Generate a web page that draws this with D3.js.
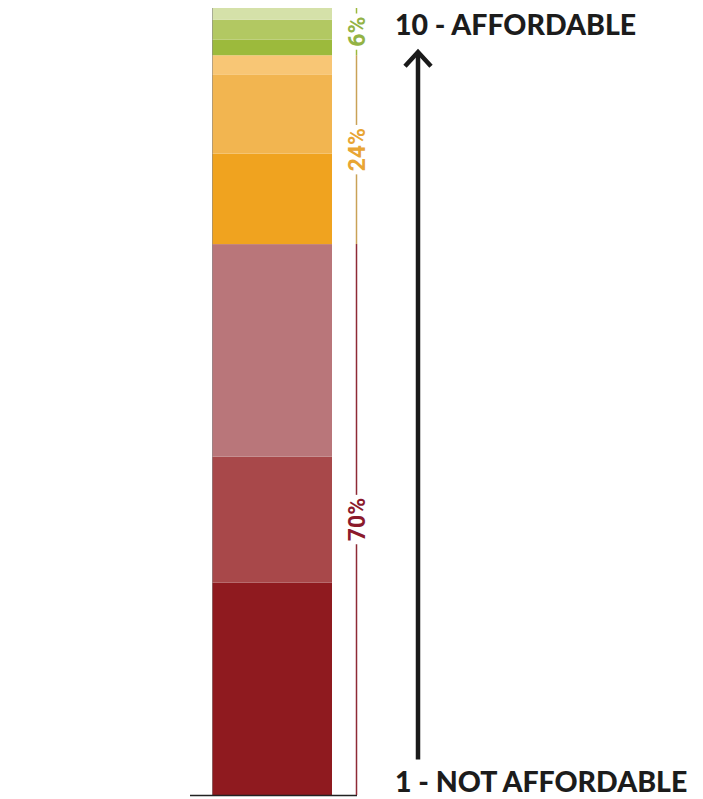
<!DOCTYPE html>
<html>
<head>
<meta charset="utf-8">
<script src="https://cdn.jsdelivr.net/npm/d3@7"></script>
<style>
  html, body { margin: 0; padding: 0; background: #ffffff; }
  svg { display: block; }
</style>
</head>
<body>
<div id="chart"></div>
<script>
// Affordability ratings, share of respondents per band (bottom = least affordable)
const levels = ["L1", "L2", "L3", "L4", "L5", "L6", "L7", "L8", "L9"];
const shares = [27, 16, 27, 11.5, 10, 2.5, 2, 2.5, 1.5];

// Grouped totals shown beside the bar
const groupLabels = ["70%", "24%", "6%"];
const groupValues = [70, 24, 6];

// Scale end labels
const topLabel = "10 - AFFORDABLE";
const bottomLabel = "1 - NOT AFFORDABLE";

// Palette
const levelColors = ["#8f1a1f", "#a8484a", "#b9767a", "#f0a31f", "#f2b550", "#f8c675", "#9cba3c", "#b2c862", "#d5e1a9"];
const groupLineColors = ["#8e2a36", "#c9a257", "#9cba3c"];
const groupTextColors = ["#8b1a2c", "#e8a534", "#93b345"];

const W = 703, H = 799;
const svg = d3.select("#chart").append("svg").attr("width", W).attr("height", H);

const y = d3.scaleLinear().domain([0, 100]).range([795, 8]);
const x = d3.scaleBand().domain(["share"]).range([212, 332]).padding(0);

// stacked segments
const stacked = [];
let acc = 0;
shares.forEach((v, i) => {
  stacked.push({ id: levels[i], y0: acc, y1: acc + v, color: levelColors[i] });
  acc += v;
});

svg.append("g").selectAll("rect")
  .data(stacked)
  .join("rect")
  .attr("x", x("share"))
  .attr("width", x.bandwidth())
  .attr("y", d => y(d.y1))
  .attr("height", d => y(d.y0) - y(d.y1))
  .attr("fill", d => d.color);

// faint left edge of the bar
svg.append("line")
  .attr("x1", x("share") + 0.5).attr("x2", x("share") + 0.5)
  .attr("y1", y(100)).attr("y2", y(0))
  .attr("stroke", "#8a8a8a").attr("stroke-opacity", 0.6).attr("stroke-width", 1);

// baseline
svg.append("line")
  .attr("x1", 190).attr("x2", 357)
  .attr("y1", y(0) + 0.5).attr("y2", y(0) + 0.5)
  .attr("stroke", "#222").attr("stroke-width", 1.5);

// group brackets
const bx = 356.5;
let gAcc = 0;
const groups = groupValues.map((v, i) => {
  const g = { label: groupLabels[i], g0: gAcc, g1: gAcc + v, i };
  gAcc += v;
  return g;
});

const bracket = svg.append("g");
bracket.selectAll("line")
  .data(groups)
  .join("line")
  .attr("x1", bx).attr("x2", bx)
  .attr("y1", d => y(d.g0))
  .attr("y2", d => y(d.g1))
  .attr("stroke", d => groupLineColors[d.i])
  .attr("stroke-width", 1.5);

const labels = bracket.selectAll("g.lbl")
  .data(groups)
  .join("g")
  .attr("class", "lbl")
  .attr("transform", d => `translate(${bx},${y((d.g0 + d.g1) / 2)}) rotate(-90)`);

labels.append("text")
  .attr("text-anchor", "middle")
  .attr("dy", "0.36em")
  .attr("font-family", "Roboto, 'DejaVu Sans', sans-serif")
  .attr("font-weight", 700)
  .attr("font-size", 23)
  .attr("fill", d => groupTextColors[d.i])
  .text(d => d.label)
  .each(function () {
    const bb = this.getBBox();
    d3.select(this.parentNode).insert("rect", "text")
      .attr("x", bb.x - 3).attr("y", bb.y)
      .attr("width", bb.width + 6).attr("height", bb.height)
      .attr("fill", "#fff");
  });

// direction arrow
const ax = 418;
svg.append("line")
  .attr("x1", ax).attr("x2", ax)
  .attr("y1", y(4.5)).attr("y2", y(94.2))
  .attr("stroke", "#1a1a1a").attr("stroke-width", 4.5);
svg.append("path")
  .attr("d", `M${ax - 13},${y(92.6)} L${ax},${y(94.4)} L${ax + 13},${y(92.6)}`)
  .attr("fill", "none")
  .attr("stroke", "#1a1a1a").attr("stroke-width", 4.5)
  .attr("stroke-linejoin", "miter");

// end labels
const labelFont = "Lato, 'Open Sans', sans-serif";
svg.append("text")
  .attr("x", 395).attr("y", 35)
  .attr("font-family", labelFont).attr("font-weight", 900)
  .attr("font-size", 28.5).attr("fill", "#1c1c1c")
  .text(topLabel);
svg.append("text")
  .attr("x", 395).attr("y", 792)
  .attr("font-family", labelFont).attr("font-weight", 900)
  .attr("font-size", 28.5).attr("fill", "#1c1c1c")
  .text(bottomLabel);
</script>
</body>
</html>
